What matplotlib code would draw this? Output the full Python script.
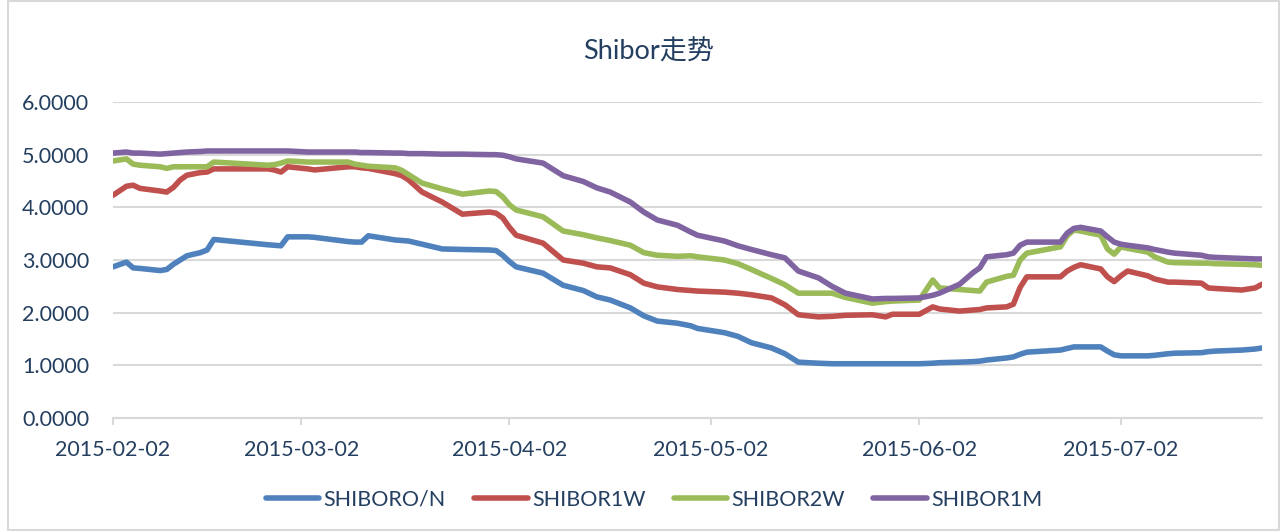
import numpy as np
import pandas as pd
import matplotlib
matplotlib.use('Agg')
import matplotlib.pyplot as plt
import matplotlib.dates as mdates
from matplotlib.ticker import FormatStrFormatter
from matplotlib.patches import Rectangle

plt.rcParams['font.family'] = ['Lato', 'Noto Sans CJK SC', 'DejaVu Sans']

# trading days
dates = ['2015-02-02', '2015-02-04', '2015-02-05', '2015-02-06', '2015-02-09', '2015-02-10',
         '2015-02-11', '2015-02-12', '2015-02-13', '2015-02-15', '2015-02-16', '2015-02-17',
         '2015-02-25', '2015-02-26', '2015-02-27', '2015-02-28', '2015-03-03', '2015-03-04',
         '2015-03-09', '2015-03-10', '2015-03-11', '2015-03-12', '2015-03-16', '2015-03-17',
         '2015-03-18', '2015-03-20', '2015-03-23', '2015-03-26', '2015-03-30', '2015-03-31',
         '2015-04-01', '2015-04-02', '2015-04-03', '2015-04-07', '2015-04-10', '2015-04-13',
         '2015-04-15', '2015-04-17', '2015-04-20', '2015-04-22', '2015-04-24', '2015-04-27',
         '2015-04-29', '2015-04-30', '2015-05-04', '2015-05-06', '2015-05-08', '2015-05-11',
         '2015-05-13', '2015-05-15', '2015-05-18', '2015-05-20', '2015-05-22', '2015-05-26',
         '2015-05-28', '2015-05-29', '2015-06-02', '2015-06-04', '2015-06-05', '2015-06-08',
         '2015-06-10', '2015-06-11', '2015-06-12', '2015-06-15', '2015-06-16', '2015-06-17',
         '2015-06-18', '2015-06-23', '2015-06-24', '2015-06-25', '2015-06-26', '2015-06-29',
         '2015-06-30', '2015-07-01', '2015-07-02', '2015-07-03', '2015-07-06', '2015-07-07',
         '2015-07-09', '2015-07-10', '2015-07-14', '2015-07-15', '2015-07-16', '2015-07-20',
         '2015-07-22', '2015-07-23']

shibor_on = [2.87, 2.96, 2.85, 2.84, 2.80, 2.82, 2.92, 3.00, 3.08, 3.14, 3.19, 3.39,
             3.29, 3.28, 3.27, 3.44, 3.44, 3.43, 3.35, 3.34, 3.34, 3.46, 3.38, 3.37,
             3.36, 3.30, 3.21, 3.20, 3.19, 3.18, 3.09, 2.97, 2.87, 2.75, 2.52, 2.42,
             2.30, 2.24, 2.09, 1.94, 1.84, 1.80, 1.75, 1.70, 1.62, 1.55, 1.43, 1.33,
             1.22, 1.06, 1.04, 1.03, 1.03, 1.03, 1.03, 1.03, 1.03, 1.04, 1.05, 1.06,
             1.07, 1.08, 1.10, 1.14, 1.16, 1.21, 1.25, 1.29, 1.32, 1.35, 1.35, 1.35,
             1.27, 1.20, 1.18, 1.18, 1.18, 1.19, 1.22, 1.23, 1.24, 1.26, 1.27, 1.29,
             1.31, 1.33]

shibor_1w = [4.23, 4.40, 4.42, 4.36, 4.31, 4.29, 4.38, 4.52, 4.61, 4.66, 4.67, 4.73,
             4.73, 4.71, 4.67, 4.77, 4.73, 4.71, 4.77, 4.77, 4.75, 4.74, 4.64, 4.60,
             4.52, 4.29, 4.10, 3.87, 3.91, 3.89, 3.80, 3.62, 3.47, 3.32, 3.00, 2.94,
             2.87, 2.85, 2.72, 2.56, 2.49, 2.44, 2.42, 2.41, 2.39, 2.37, 2.34, 2.28,
             2.15, 1.96, 1.92, 1.93, 1.95, 1.96, 1.92, 1.97, 1.97, 2.11, 2.07, 2.03,
             2.05, 2.06, 2.09, 2.11, 2.16, 2.48, 2.68, 2.68, 2.79, 2.86, 2.91, 2.83,
             2.68, 2.59, 2.70, 2.79, 2.70, 2.64, 2.58, 2.58, 2.56, 2.47, 2.46, 2.43,
             2.47, 2.54]

shibor_2w = [4.88, 4.92, 4.82, 4.80, 4.77, 4.74, 4.77, 4.77, 4.77, 4.77, 4.77, 4.86,
             4.80, 4.81, 4.84, 4.88, 4.86, 4.86, 4.86, 4.82, 4.80, 4.78, 4.75, 4.70,
             4.62, 4.46, 4.35, 4.25, 4.31, 4.30, 4.20, 4.05, 3.95, 3.82, 3.55, 3.48,
             3.42, 3.37, 3.28, 3.14, 3.09, 3.07, 3.08, 3.06, 3.00, 2.93, 2.82, 2.65,
             2.53, 2.37, 2.37, 2.37, 2.29, 2.18, 2.21, 2.22, 2.24, 2.62, 2.47, 2.44,
             2.42, 2.41, 2.58, 2.69, 2.71, 3.00, 3.13, 3.25, 3.46, 3.57, 3.55, 3.47,
             3.21, 3.11, 3.25, 3.22, 3.15, 3.06, 2.96, 2.95, 2.94, 2.94, 2.93, 2.92,
             2.91, 2.90]

shibor_1m = [5.03, 5.05, 5.03, 5.03, 5.01, 5.02, 5.03, 5.04, 5.05, 5.06, 5.07, 5.07,
             5.07, 5.07, 5.07, 5.07, 5.05, 5.05, 5.05, 5.05, 5.04, 5.04, 5.03, 5.03,
             5.02, 5.02, 5.01, 5.01, 5.00, 5.00, 4.99, 4.96, 4.92, 4.84, 4.60, 4.49,
             4.37, 4.29, 4.10, 3.91, 3.76, 3.66, 3.53, 3.47, 3.36, 3.27, 3.20, 3.10,
             3.04, 2.79, 2.66, 2.50, 2.37, 2.26, 2.27, 2.27, 2.28, 2.33, 2.37, 2.54,
             2.76, 2.85, 3.06, 3.10, 3.13, 3.28, 3.34, 3.34, 3.51, 3.60, 3.62, 3.55,
             3.44, 3.34, 3.30, 3.28, 3.23, 3.20, 3.15, 3.13, 3.09, 3.06, 3.05, 3.03,
             3.02, 3.02]

series_names = ['SHIBORO/N', 'SHIBOR1W', 'SHIBOR2W', 'SHIBOR1M']
colors = ['#4F81BD', '#C0504D', '#9BBB59', '#8064A2']
tick_dates = ['2015-02-02', '2015-03-02', '2015-04-02', '2015-05-02', '2015-06-02', '2015-07-02']

text_color = '#243F60'
grid_color = '#D9D9D9'

x = pd.to_datetime(dates)

fig = plt.figure(figsize=(12.8, 5.31), dpi=100)
ax = fig.add_axes([113 / 1280, 1 - 418 / 531, (1262 - 113) / 1280, (418 - 102) / 531])

for vals, name, c in zip([shibor_on, shibor_1w, shibor_2w, shibor_1m], series_names, colors):
    ax.plot(x, vals, color=c, lw=4.0, label=name, solid_capstyle='round', solid_joinstyle='round')

ax.set_ylim(0, 6)
ax.set_yticks(np.arange(0, 7, 1))
ax.yaxis.set_major_formatter(FormatStrFormatter('%.4f'))
ax.set_xlim(x[0], x[-1])
ax.set_xticks(pd.to_datetime(tick_dates))
ax.xaxis.set_major_formatter(mdates.DateFormatter('%Y-%m-%d'))

ax.grid(axis='y', color=grid_color, lw=1.5)
ax.set_axisbelow(True)
for s in ['top', 'right', 'left']:
    ax.spines[s].set_visible(False)
ax.spines['bottom'].set_color(grid_color)
ax.spines['bottom'].set_linewidth(1.5)

ax.tick_params(axis='y', length=0, pad=17, labelsize=15.5, labelcolor=text_color)
ax.tick_params(axis='x', length=5, width=1.5, color=grid_color, pad=11,
               labelsize=15.5, labelcolor=text_color)

fig.text(0.507, 1 - 52 / 531, 'Shibor走势', ha='center', va='center',
         fontsize=19.5, color=text_color)

fig.legend(loc='center', bbox_to_anchor=(0.511, 1 - 500 / 531), ncol=4, frameon=False,
           fontsize=15.5, labelcolor=text_color, handlelength=2.5, handletextpad=0.2,
           columnspacing=1.3)

# chart area border
fig.patches.append(Rectangle((8 / 1280, 0.002), 1 - 9 / 1280, 0.996, transform=fig.transFigure,
                             fill=False, edgecolor=grid_color, lw=1.5))

fig.savefig('out.png', dpi=100)
